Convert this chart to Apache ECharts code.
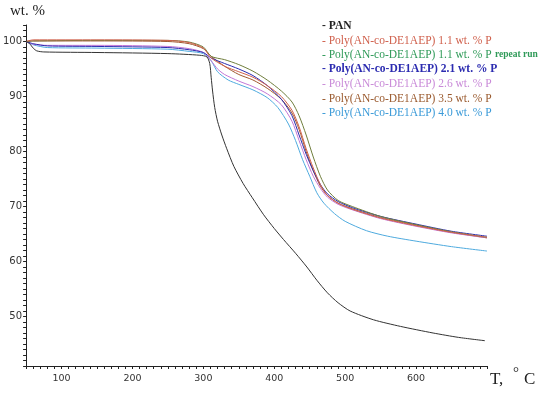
<!DOCTYPE html>
<html><head><meta charset="utf-8">
<script src="https://cdn.jsdelivr.net/npm/echarts@6/dist/echarts.min.js"></script>
<style>html,body{margin:0;padding:0;background:#fff}#c{width:550px;height:394px}</style>
</head><body><div id="c"></div>
<script>
// Temperature (°C) / weight (%) pairs for each sample
const seriesNames = [
  'PAN',
  'Poly(AN-co-DE1AEP) 1.1 wt. % P',
  'Poly(AN-co-DE1AEP) 1.1 wt. % P repeat run',
  'Poly(AN-co-DE1AEP) 2.1 wt. % P',
  'Poly(AN-co-DE1AEP) 2.6 wt. % P',
  'Poly(AN-co-DE1AEP) 3.5 wt. % P',
  'Poly(AN-co-DE1AEP) 4.0 wt. % P'
];
const xTickLabels = [100, 200, 300, 400, 500, 600];
const yTickLabels = [50, 60, 70, 80, 90, 100];
const lineColors = ['#333333', '#d0604c', '#6f7d3c', '#2b2bb0', '#c276d6', '#a0582e', '#4eaade'];
const legendColors = ['#222222', '#d0604c', '#2f9a58', '#2b2bb0', '#c98ad8', '#9a5a2e', '#3a9ad8'];

const pan = [[50,100],[55,99.6],[60,98.8],[65,98.3],[75,98.1],[150,98.0],[250,97.8],[295,97.5],[305,97.2],[309,96],[311,93.5],[313,91],[316,88],[320,85.5],[326,83],[333,80.5],[343,77.3],[356,74.2],[369,71.6],[385,68.5],[400,66],[413,64],[430,61.5],[446,59],[460,56.6],[475,54.3],[490,52.5],[507,51],[540,49.4],[578,48.2],[624,47],[660,46.2],[697,45.6]];
const p11 = [[50,100],[60,100.3],[150,100.3],[250,100.2],[280,99.8],[300,98.8],[311,97],[330,95.5],[350,94.5],[370,93.5],[390,92],[410,90],[425,87.5],[435,84.5],[445,80.5],[455,77],[465,74],[475,72],[490,70.6],[510,69.5],[550,67.9],[600,66.5],[650,65.3],[700,64.4]];
const p11r = [[50,100],[60,100.1],[150,100.2],[250,100.2],[280,99.9],[300,99],[311,97.3],[330,96.7],[350,95.8],[370,94.6],[390,93],[410,91],[425,89],[435,86.5],[445,83],[455,79],[465,75.5],[475,73],[490,71.1],[510,70],[550,68.2],[600,66.7],[650,65.4],[700,64.4]];
const p21 = [[50,100],[60,99.6],[80,99.2],[150,99.1],[250,98.9],[280,98.5],[300,98],[311,97],[330,96],[350,95],[370,93.8],[390,92],[410,89.5],[425,86.5],[435,83],[445,79.5],[455,76.5],[465,74],[475,72.3],[490,70.9],[510,69.8],[550,68.2],[600,66.8],[650,65.5],[700,64.6]];
const p26 = [[50,100],[60,99.5],[80,99.3],[150,99.3],[250,99.1],[280,98.7],[300,98],[311,96.5],[320,95],[330,94],[350,92.8],[370,91.8],[390,90.5],[410,88.5],[425,85.5],[435,82],[445,78.5],[455,75.5],[465,73.3],[475,71.7],[490,70.4],[510,69.4],[550,67.8],[600,66.4],[650,65.2],[700,64.3]];
const p35 = [[50,100],[60,100.1],[150,100.1],[250,100],[280,99.6],[300,98.7],[311,97.3],[330,95.5],[350,94],[370,93],[390,91.5],[410,89.5],[425,87],[435,84],[445,80],[455,76.5],[465,73.7],[475,72],[490,70.6],[510,69.6],[550,68],[600,66.6],[650,65.3],[700,64.3]];
const p40 = [[50,100],[60,99.4],[80,98.9],[150,98.8],[250,98.6],[280,98.2],[300,97.8],[311,96.5],[320,94.5],[335,93],[350,92.2],[370,91.2],[390,89.8],[405,88],[420,85],[430,82],[440,78.5],[450,75.5],[460,72.5],[470,70.6],[485,68.7],[500,67.3],[530,65.6],[560,64.6],[600,63.7],[650,62.7],[700,61.9]];
const seriesData = [pan, p11, p11r, p21, p26, p35, p40];

const chart = echarts.init(document.getElementById('c'), null, {renderer: 'canvas'});

const legendGraphics = [];
seriesNames.forEach((n, i) => {
  const y = 27 + i * 14.5;
  if (n.endsWith(' repeat run')) {
    const main = n.replace(' repeat run', '');
    legendGraphics.push({type: 'text', left: 322, top: y - 7, style: {
      text: '{a|- ' + main + '} {b|repeat run}',
      rich: {
        a: {fontFamily: 'Liberation Serif', fontSize: 11.5, fill: legendColors[i]},
        b: {fontFamily: 'Liberation Serif', fontSize: 9.5, fill: legendColors[i], fontWeight: 'bold'}
      }
    }});
  } else {
    legendGraphics.push({type: 'text', left: 322, top: y - 7, style: {
      text: '- ' + n, fontFamily: 'Liberation Serif', fontSize: 11.5,
      fill: legendColors[i], fontWeight: i === 0 || i === 3 ? 'bold' : 'normal'
    }});
  }
});

chart.setOption({
  animation: false,
  grid: {left: 24, right: 63, top: 25, bottom: 28},
  xAxis: {
    type: 'value', min: 50, max: 700, interval: 10,
    axisLine: {lineStyle: {color: '#222', width: 1}},
    axisTick: {length: 3, lineStyle: {color: '#222'}},
    splitLine: {show: false},
    axisLabel: {interval: 0, margin: 8, color: '#333', fontFamily: 'DejaVu Sans', fontSize: 9.5,
      formatter: v => (xTickLabels.includes(v) ? String(v) : '')}
  },
  yAxis: {
    type: 'value', min: 41, max: 103, interval: 1,
    axisLine: {show: true, lineStyle: {color: '#222', width: 1}},
    axisTick: {show: true, length: 3, lineStyle: {color: '#222'}},
    splitLine: {show: false},
    axisLabel: {interval: 0, margin: 4, color: '#333', fontFamily: 'DejaVu Sans', fontSize: 10,
      formatter: v => (yTickLabels.includes(v) ? String(v) : '')}
  },
  graphic: [
    {type: 'text', left: 10, top: 4, style: {text: 'wt. %', fontFamily: 'Liberation Serif', fontSize: 15, fill: '#222'}},
    {type: 'text', left: 490, top: 371, style: {text: 'T,', fontFamily: 'Liberation Serif', fontSize: 17, fill: '#222'}},
    {type: 'text', left: 513, top: 366, style: {text: '°', fontFamily: 'Liberation Serif', fontSize: 15, fill: '#222'}},
    {type: 'text', left: 524, top: 371, style: {text: 'C', fontFamily: 'Liberation Serif', fontSize: 17, fill: '#222'}}
  ].concat(legendGraphics),
  series: seriesNames.map((n, i) => ({
    name: n, type: 'line', data: seriesData[i], showSymbol: false, smooth: 0.25,
    lineStyle: {color: lineColors[i], width: 1}, itemStyle: {color: lineColors[i]},
    z: 10 - i
  }))
});
</script></body></html>
